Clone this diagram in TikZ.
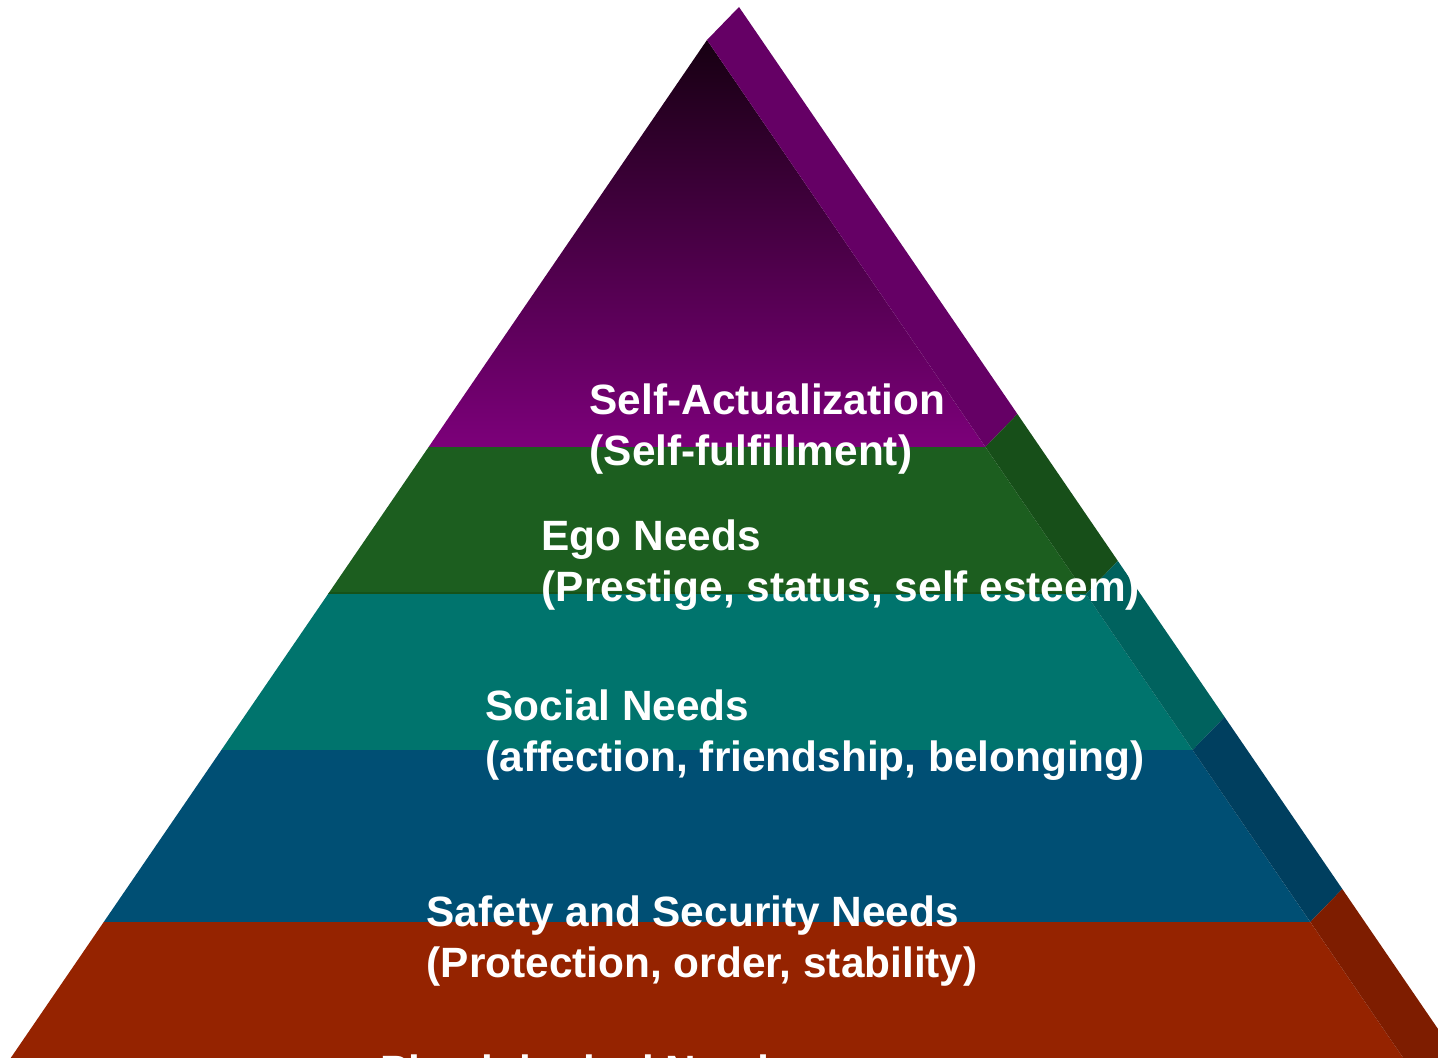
\documentclass[tikz,border=0pt]{standalone}
\usepackage{fontspec}
\setmainfont{Liberation Sans}
\usetikzlibrary{positioning}
\definecolor{selfdark}{HTML}{170012}
\definecolor{selfpurple}{HTML}{7C007A}
\definecolor{selfside}{HTML}{650065}
\definecolor{egogreen}{HTML}{1C5E1F}
\definecolor{egoside}{HTML}{174F19}
\definecolor{egoedge}{HTML}{165218}
\definecolor{socialteal}{HTML}{00746D}
\definecolor{socialside}{HTML}{00625E}
\definecolor{safetyblue}{HTML}{004F74}
\definecolor{safetyside}{HTML}{003F5F}
\definecolor{physred}{HTML}{952300}
\definecolor{physside}{HTML}{7E1D00}

\begin{document}
\begin{tikzpicture}[x=0.01cm,y=-0.01cm,
  needtext/.style={inner sep=0pt, align=left, text=white,
    font=\fontsize{12.05}{14.5}\selectfont\bfseries}]
\useasboundingbox (0,0) rectangle (1438,1058);
\clip (0,0) rectangle (1438,1058);
\coordinate (apex) at (707,40); % front apex
\coordinate (back) at (739,7); % back apex
\coordinate (baseL) at (-18,1100);
\coordinate (baseR) at (1432,1100);
\coordinate (backR) at (1464,1067);
%% front corners of each level and the matching back corners
\coordinate (r1) at (985.4,447);  \coordinate (b1) at (1017.4,414);
\coordinate (r2) at (1085.9,594); \coordinate (b2) at (1117.9,561);
\coordinate (r3) at (1192.6,750); \coordinate (b3) at (1224.6,717);
\coordinate (r4) at (1310.3,922); \coordinate (b4) at (1342.3,889);
%% Front face, cut into levels.
\begin{scope}
\clip (apex) -- (baseR) -- (baseL) -- cycle;
\shade[top color=selfdark, bottom color=selfpurple] (0,40) rectangle (1438,447); % top level
\fill[egogreen] (0,447) rectangle (1438,594);
\fill[socialteal] (0,594) rectangle (1438,750);
\fill[safetyblue] (0,750) rectangle (1438,922);
\fill[physred] (0,922) rectangle (1438,1100);
\draw[egoedge, line width=0.6pt] (0,593) -- (1438,593);
\end{scope}
%% Right side face.
\fill[selfside] (apex) -- (back) -- (b1) -- (r1) -- cycle;
\fill[egoside] (r1) -- (b1) -- (b2) -- (r2) -- cycle;
\fill[socialside] (r2) -- (b2) -- (b3) -- (r3) -- cycle;
\fill[safetyside] (r3) -- (b3) -- (b4) -- (r4) -- cycle;
\fill[physside] (r4) -- (b4) -- (backR) -- (baseR) -- cycle;
%% Labels for the levels.
\node[needtext, below right = 0mm of {(589,383)}] (selfact) {Self-Actualization\\(Self-fulfillment)};
\node[needtext, below right = 0mm of {(541,519)}] (ego) {Ego Needs\\(Prestige, status, self esteem)};
\node[needtext, below right = 0mm of {(485,689)}] (social) {Social Needs\\(affection, friendship, belonging)};
\node[needtext, below right = 0mm of {(426,895)}] (safety) {Safety and Security Needs\\(Protection, order, stability)};
\node[needtext, below right = 0mm of {(380,1054)}] (physio) {Physiological Needs};
\end{tikzpicture}
\end{document}
